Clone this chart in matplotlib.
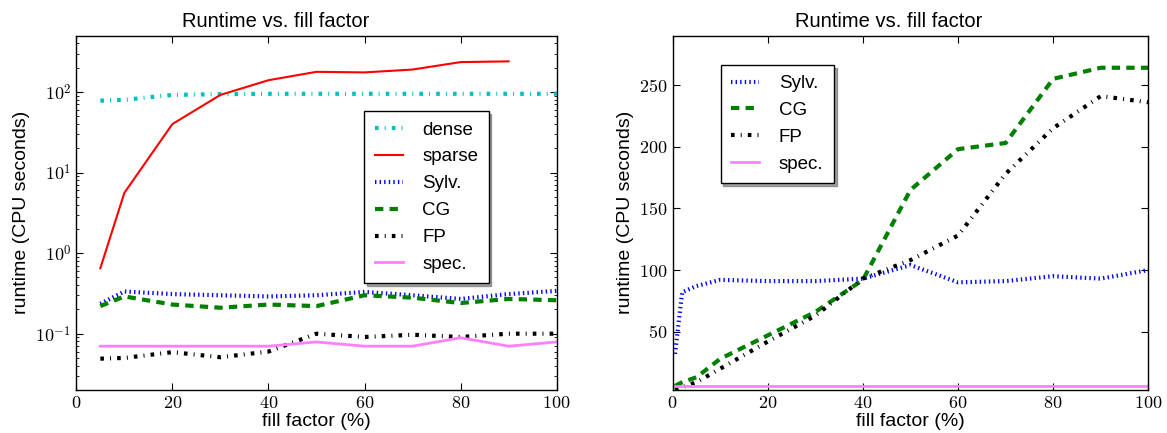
import math
import matplotlib
matplotlib.use("Agg")
import matplotlib.pyplot as plt
from matplotlib.ticker import FuncFormatter, LogLocator, FixedLocator

plt.rcParams['font.family'] = ['Liberation Sans', 'DejaVu Sans']
plt.rcParams['mathtext.fontset'] = 'cm'
plt.rcParams['lines.scale_dashes'] = False

# ---- left panel data (log scale) ----
x_left = [5, 10, 20, 30, 40, 50, 60, 70, 80, 90, 100]
dense = [78, 80, 92, 94, 95, 95, 95, 95, 95, 95, 95]
x_sparse = [5, 10, 20, 30, 40, 50, 60, 70, 80, 90]
sparse = [0.65, 5.6, 40, 92, 140, 178, 175, 190, 235, 240]
sylv_l = [0.235, 0.334, 0.31, 0.30, 0.29, 0.30, 0.33, 0.30, 0.27, 0.31, 0.34]
cg_l = [0.22, 0.29, 0.23, 0.21, 0.23, 0.22, 0.30, 0.28, 0.24, 0.27, 0.26]
fp_l = [0.049, 0.05, 0.059, 0.051, 0.06, 0.10, 0.091, 0.097, 0.091, 0.10, 0.10]
spec_l = [0.07, 0.07, 0.07, 0.07, 0.07, 0.079, 0.07, 0.07, 0.089, 0.07, 0.079]

# ---- right panel data (linear scale) ----
x_right = [0.5, 2, 5, 10, 20, 30, 40, 50, 60, 70, 80, 90, 100]
sylv_r = [32, 82, 87, 92, 91, 91, 93, 104, 90, 91, 95, 93, 100]
cg_r = [6, 9, 13, 28, 47, 66, 92, 165, 198, 203, 255, 264, 264]
fp_r = [3, 5, 9, 20, 42, 63, 93, 108, 128, 178, 215, 241, 236]
spec_r = [6, 6, 6, 6, 6, 6, 6, 6, 6, 6, 6, 6, 6]

x_ticks = [0, 20, 40, 60, 80, 100]
y_ticks_right = [50, 100, 150, 200, 250]

title = "Runtime vs. fill factor"
xlabel = "fill factor (%)"
ylabel = "runtime (CPU seconds)"

fig = plt.figure(figsize=(11.67, 4.33), dpi=100)
ax1 = fig.add_axes([0.0654, 0.0993, 0.4116, 0.8183])
ax2 = fig.add_axes([0.5764, 0.0993, 0.4076, 0.8183])

sty = dict(
    dense=dict(color=(0, 0.75, 0.75), lw=3, dashes=(2.6, 4.4, 0.7, 4.4)),
    sparse=dict(color='red', lw=1.5, ls='-'),
    sylv=dict(color='blue', lw=3, dashes=(1.0, 2.3)),
    cg=dict(color=(0, 0.5, 0), lw=3, dashes=(6, 4.5)),
    fp=dict(color='black', lw=3, dashes=(2.6, 4.4, 0.7, 4.4)),
    spec=dict(color=(1, 0.5, 1), lw=2, ls='-'),
)

ax1.plot(x_left, dense, label='dense', **sty['dense'])
ax1.plot(x_sparse, sparse, label='sparse', **sty['sparse'])
ax1.plot(x_left, sylv_l, label='Sylv.', **sty['sylv'])
ax1.plot(x_left, cg_l, label='CG', **sty['cg'])
ax1.plot(x_left, fp_l, label='FP', **sty['fp'])
ax1.plot(x_left, spec_l, label='spec.', **sty['spec'])
ax1.set_yscale('log')
ax1.set_ylim(0.02, 500)
ax1.set_xlim(0, 100)
ax1.yaxis.set_major_locator(LogLocator(base=10, numticks=10))
ax1.yaxis.set_major_formatter(FuncFormatter(lambda v, p: r'$10^{%d}$' % round(math.log10(v))))

ax2.plot(x_right, sylv_r, label='Sylv.', **sty['sylv'])
ax2.plot(x_right, cg_r, label='CG', **sty['cg'])
ax2.plot(x_right, fp_r, label='FP', **sty['fp'])
ax2.plot(x_right, spec_r, label='spec.', **sty['spec'])
ax2.set_xlim(0, 100)
ax2.set_ylim(2.7, 290)
ax2.yaxis.set_major_locator(FixedLocator(y_ticks_right))
ax2.yaxis.set_major_formatter(FuncFormatter(lambda v, p: r'$%d$' % v))

for ax, tx in ((ax1, 0.416), (ax2, 0.454)):
    ax.xaxis.set_major_locator(FixedLocator(x_ticks))
    ax.xaxis.set_major_formatter(FuncFormatter(lambda v, p: r'$%d$' % v))
    ax.tick_params(which='both', direction='in', top=True, right=True, labelsize=13)
    ax.tick_params(which='major', length=5, width=0.8)
    ax.tick_params(which='minor', length=2.5, width=0.6)
    ax.set_title(title, fontsize=14.5, pad=6, x=tx)
    ax.set_xlabel(xlabel, fontsize=14, labelpad=1)
    ax.set_ylabel(ylabel, fontsize=14, labelpad=4)
    for s in ax.spines.values():
        s.set_linewidth(1.0)

leg_kw = dict(fontsize=13.5, frameon=True, fancybox=False, shadow=True,
              edgecolor='black', framealpha=1, handlelength=1.5,
              borderpad=0.55, labelspacing=0.52, handletextpad=1.05,
              borderaxespad=0.0)
l1 = ax1.legend(loc='upper left', bbox_to_anchor=(0.5995, 0.787), **leg_kw)
l2 = ax2.legend(loc='upper left', bbox_to_anchor=(0.101, 0.918), **leg_kw)
for l in (l1, l2):
    l.get_frame().set_linewidth(1.0)

fig.savefig('out.png', dpi=100)
